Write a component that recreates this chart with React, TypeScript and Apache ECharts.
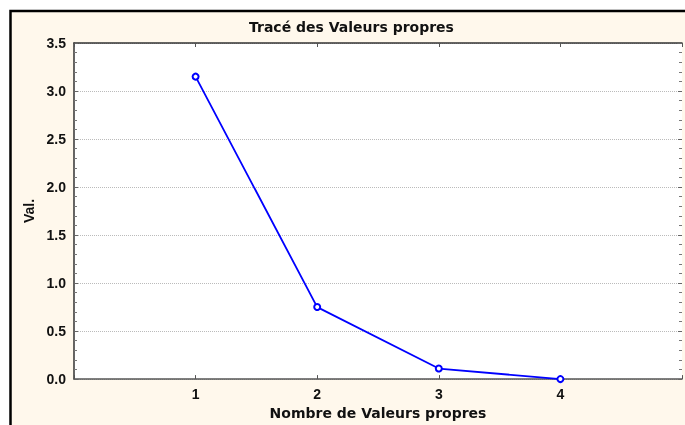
import React, { useEffect, useRef } from "react";
import * as echarts from "echarts";

const categories = [1, 2, 3, 4];
const eigenValues = [3.15, 0.75, 0.11, 0.0];
const yTicks = [0, 0.5, 1.0, 1.5, 2.0, 2.5, 3.0, 3.5];

const FONT = "'Liberation Sans', Arial, sans-serif";
const WIDE = "'DejaVu Sans', Verdana, sans-serif";

export default function App() {
  const ref = useRef<HTMLDivElement>(null);
  useEffect(() => {
    if (!ref.current) return;
    const chart = echarts.init(ref.current, null, { renderer: "svg" });
    const data = categories.map((c, i) => [c, eigenValues[i]]);
    const labelStyle = { fontFamily: FONT, fontWeight: "bold" as const, fontSize: 14, color: "#111" };
    chart.setOption({
      animation: false,
      graphic: [
        {
          type: "rect",
          z: -10,
          silent: true,
          shape: { x: 10.5, y: 11, width: 720, height: 460 },
          style: { fill: "#FFF8EC", stroke: "#000", lineWidth: 2.5 },
        },
      ],
      title: {
        text: "Tracé des Valeurs propres",
        left: 249,
        top: 20,
        padding: 0,
        textStyle: { fontFamily: WIDE, fontWeight: "bold", fontSize: 14, color: "#111" },
      },
      grid: {
        left: 74,
        top: 43,
        right: 0,
        bottom: 42,
        show: true,
        backgroundColor: "#ffffff",
        borderWidth: 0,
      },
      xAxis: [
        {
          type: "value",
          position: "bottom",
          min: 0,
          max: 5,
          interval: 1,
          axisLine: { show: true, onZero: false, lineStyle: { color: "#555", width: 1.5 } },
          axisTick: { show: true, inside: true, length: 4, lineStyle: { color: "#555" } },
          axisLabel: {
            ...labelStyle,
            margin: 8,
            formatter: (v: number) => (categories.includes(v) ? String(v) : ""),
          },
          splitLine: { show: false },
          name: "Nombre de Valeurs propres",
          nameLocation: "middle",
          nameGap: 22,
          nameTextStyle: { fontFamily: WIDE, fontWeight: "bold", fontSize: 14, color: "#111" },
        },
        {
          type: "value",
          position: "top",
          min: 0,
          max: 5,
          interval: 1,
          axisLine: { show: true, onZero: false, lineStyle: { color: "#333", width: 1.5 } },
          axisTick: { show: true, inside: true, length: 4, lineStyle: { color: "#555" } },
          axisLabel: { show: false },
          splitLine: { show: false },
        },
      ],
      yAxis: [
        {
          type: "value",
          position: "left",
          min: yTicks[0],
          max: yTicks[yTicks.length - 1],
          interval: 0.5,
          axisLine: { show: true, onZero: false, lineStyle: { color: "#333", width: 1.5 } },
          axisTick: { show: true, inside: true, length: 4, lineStyle: { color: "#666" } },
          minorTick: { show: true, splitNumber: 5, length: 3, lineStyle: { color: "#777" } },
          axisLabel: {
            ...labelStyle,
            margin: 8,
            formatter: (v: number) => v.toFixed(1),
          },
          splitLine: { show: true, lineStyle: { color: "#bbb", type: "dotted", width: 1 } },
          name: "Val.",
          nameLocation: "middle",
          nameGap: 37,
          nameRotate: 90,
          nameTextStyle: { fontFamily: FONT, fontWeight: "bold", fontSize: 14, color: "#111" },
        },
        {
          type: "value",
          position: "right",
          min: yTicks[0],
          max: yTicks[yTicks.length - 1],
          interval: 0.5,
          axisLine: { show: false, onZero: false },
          axisTick: { show: true, inside: true, length: 4, lineStyle: { color: "#666" } },
          minorTick: { show: true, splitNumber: 5, length: 3, lineStyle: { color: "#777" } },
          axisLabel: { show: false },
          splitLine: { show: false },
        },
      ],
      series: [
        {
          type: "line",
          data,
          xAxisIndex: 0,
          yAxisIndex: 0,
          symbol: "emptyCircle",
          symbolSize: 6,
          lineStyle: { color: "#0000ff", width: 1.8 },
          itemStyle: { color: "#0000ff", borderColor: "#0000ff", borderWidth: 1 },
        },
      ],
    });
    return () => chart.dispose();
  }, []);
  return (
    <div
      ref={ref}
      style={{ position: "fixed", left: 0, top: 0, width: 685, height: 425 }}
    />
  );
}
